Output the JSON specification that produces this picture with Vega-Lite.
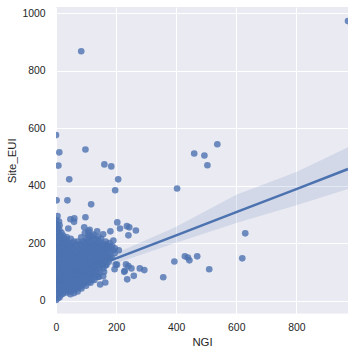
{"$schema":"https://vega.github.io/schema/vega-lite/v6.json","width":292,"height":306.5,"autosize":"none","padding":{"left":56,"top":7,"right":7,"bottom":41.5},"background":"white","config":{"view":{"stroke":null,"fill":"#EAEAF2"},"font":"Liberation Sans","axis":{"domain":false,"ticks":false,"grid":true,"gridColor":"#FFFFFF","gridWidth":1,"gridOpacity":1,"labelColor":"#262626","titleColor":"#262626","labelFontSize":10.4,"titleFontSize":11.4,"titleFontWeight":"normal","labelFont":"Liberation Sans","titleFont":"Liberation Sans","labelFlush":false}},"datasets":{"pts":[
{"NGI":84,"Site_EUI":868},{"NGI":972,"Site_EUI":973},{"NGI":0,"Site_EUI":576},{"NGI":11,"Site_EUI":516},{"NGI":8,"Site_EUI":470},{"NGI":98,"Site_EUI":526},{"NGI":161,"Site_EUI":474},{"NGI":184,"Site_EUI":467},{"NGI":44,"Site_EUI":422},{"NGI":207,"Site_EUI":422},{"NGI":197,"Site_EUI":384},{"NGI":403,"Site_EUI":390},{"NGI":2,"Site_EUI":349},{"NGI":38,"Site_EUI":349},{"NGI":117,"Site_EUI":335},{"NGI":5,"Site_EUI":294},{"NGI":10,"Site_EUI":275},{"NGI":61,"Site_EUI":286},{"NGI":48,"Site_EUI":283},{"NGI":60,"Site_EUI":274},{"NGI":98,"Site_EUI":290},{"NGI":41,"Site_EUI":251},{"NGI":94,"Site_EUI":255},{"NGI":204,"Site_EUI":272},{"NGI":213,"Site_EUI":251},{"NGI":236,"Site_EUI":259},{"NGI":244,"Site_EUI":255},{"NGI":266,"Site_EUI":244},{"NGI":241,"Site_EUI":227},{"NGI":181,"Site_EUI":241},{"NGI":137,"Site_EUI":241},{"NGI":157,"Site_EUI":231},{"NGI":191,"Site_EUI":209},{"NGI":196,"Site_EUI":182},{"NGI":209,"Site_EUI":175},{"NGI":199,"Site_EUI":125},{"NGI":203,"Site_EUI":125},{"NGI":195,"Site_EUI":109},{"NGI":233,"Site_EUI":126},{"NGI":241,"Site_EUI":120},{"NGI":251,"Site_EUI":112},{"NGI":229,"Site_EUI":104},{"NGI":227,"Site_EUI":100},{"NGI":279,"Site_EUI":112},{"NGI":294,"Site_EUI":106},{"NGI":259,"Site_EUI":86},{"NGI":237,"Site_EUI":74},{"NGI":357,"Site_EUI":81},{"NGI":394,"Site_EUI":136},{"NGI":147,"Site_EUI":56},{"NGI":164,"Site_EUI":63},{"NGI":157,"Site_EUI":112},{"NGI":160,"Site_EUI":100},{"NGI":157,"Site_EUI":85},{"NGI":143,"Site_EUI":83},{"NGI":537,"Site_EUI":544},{"NGI":460,"Site_EUI":512},{"NGI":494,"Site_EUI":505},{"NGI":504,"Site_EUI":471},{"NGI":630,"Site_EUI":234},{"NGI":620,"Site_EUI":147},{"NGI":510,"Site_EUI":109},{"NGI":470,"Site_EUI":154},{"NGI":429,"Site_EUI":154},{"NGI":439,"Site_EUI":150},{"NGI":444,"Site_EUI":140},
{"NGI":150,"Site_EUI":215},{"NGI":165,"Site_EUI":205},{"NGI":178,"Site_EUI":200},{"NGI":187,"Site_EUI":190},{"NGI":190,"Site_EUI":175},{"NGI":195,"Site_EUI":165},{"NGI":185,"Site_EUI":150},{"NGI":175,"Site_EUI":135},{"NGI":165,"Site_EUI":122},{"NGI":125,"Site_EUI":230},{"NGI":112,"Site_EUI":246},{"NGI":140,"Site_EUI":222},{"NGI":115,"Site_EUI":62},{"NGI":128,"Site_EUI":72},{"NGI":140,"Site_EUI":82},{"NGI":100,"Site_EUI":52},{"NGI":85,"Site_EUI":42},{"NGI":72,"Site_EUI":32},{"NGI":60,"Site_EUI":26},{"NGI":48,"Site_EUI":22},
{"NGI":0,"Site_EUI":2},{"NGI":0,"Site_EUI":20},{"NGI":1,"Site_EUI":38},{"NGI":0,"Site_EUI":55},{"NGI":0,"Site_EUI":73},{"NGI":1,"Site_EUI":91},{"NGI":0,"Site_EUI":108},{"NGI":0,"Site_EUI":126},{"NGI":2,"Site_EUI":144},{"NGI":0,"Site_EUI":161},{"NGI":0,"Site_EUI":179},{"NGI":1,"Site_EUI":197},{"NGI":0,"Site_EUI":214},{"NGI":0,"Site_EUI":232},{"NGI":2,"Site_EUI":250},{"NGI":0,"Site_EUI":266},{"NGI":1,"Site_EUI":280},
{"NGI":12,"Site_EUI":12},{"NGI":11,"Site_EUI":30},{"NGI":13,"Site_EUI":48},{"NGI":12,"Site_EUI":66},{"NGI":10,"Site_EUI":84},{"NGI":13,"Site_EUI":102},{"NGI":12,"Site_EUI":120},{"NGI":11,"Site_EUI":138},{"NGI":13,"Site_EUI":156},{"NGI":12,"Site_EUI":174},{"NGI":10,"Site_EUI":192},{"NGI":13,"Site_EUI":210},{"NGI":12,"Site_EUI":228},{"NGI":11,"Site_EUI":246},{"NGI":12,"Site_EUI":262},
{"NGI":24,"Site_EUI":25},{"NGI":25,"Site_EUI":43},{"NGI":23,"Site_EUI":61},{"NGI":24,"Site_EUI":79},{"NGI":26,"Site_EUI":97},{"NGI":23,"Site_EUI":115},{"NGI":24,"Site_EUI":133},{"NGI":25,"Site_EUI":151},{"NGI":23,"Site_EUI":169},{"NGI":24,"Site_EUI":187},{"NGI":26,"Site_EUI":205},{"NGI":24,"Site_EUI":226},
{"NGI":36,"Site_EUI":28},{"NGI":37,"Site_EUI":46},{"NGI":35,"Site_EUI":64},{"NGI":36,"Site_EUI":82},{"NGI":38,"Site_EUI":100},{"NGI":35,"Site_EUI":118},{"NGI":36,"Site_EUI":136},{"NGI":37,"Site_EUI":154},{"NGI":35,"Site_EUI":172},{"NGI":36,"Site_EUI":190},{"NGI":37,"Site_EUI":208},{"NGI":36,"Site_EUI":220},
{"NGI":48,"Site_EUI":32},{"NGI":49,"Site_EUI":50},{"NGI":47,"Site_EUI":68},{"NGI":48,"Site_EUI":86},{"NGI":50,"Site_EUI":104},{"NGI":47,"Site_EUI":122},{"NGI":48,"Site_EUI":140},{"NGI":49,"Site_EUI":158},{"NGI":47,"Site_EUI":176},{"NGI":48,"Site_EUI":194},{"NGI":49,"Site_EUI":215},
{"NGI":60,"Site_EUI":36},{"NGI":61,"Site_EUI":54},{"NGI":59,"Site_EUI":72},{"NGI":60,"Site_EUI":90},{"NGI":62,"Site_EUI":108},{"NGI":59,"Site_EUI":126},{"NGI":60,"Site_EUI":144},{"NGI":61,"Site_EUI":162},{"NGI":59,"Site_EUI":180},{"NGI":60,"Site_EUI":205},
{"NGI":72,"Site_EUI":42},{"NGI":73,"Site_EUI":60},{"NGI":71,"Site_EUI":78},{"NGI":72,"Site_EUI":96},{"NGI":74,"Site_EUI":114},{"NGI":71,"Site_EUI":132},{"NGI":72,"Site_EUI":150},{"NGI":73,"Site_EUI":168},{"NGI":71,"Site_EUI":186},{"NGI":72,"Site_EUI":205},
{"NGI":84,"Site_EUI":50},{"NGI":85,"Site_EUI":68},{"NGI":83,"Site_EUI":86},{"NGI":84,"Site_EUI":104},{"NGI":86,"Site_EUI":122},{"NGI":83,"Site_EUI":140},{"NGI":84,"Site_EUI":158},{"NGI":85,"Site_EUI":176},{"NGI":83,"Site_EUI":194},{"NGI":84,"Site_EUI":220},
{"NGI":96,"Site_EUI":60},{"NGI":97,"Site_EUI":78},{"NGI":95,"Site_EUI":96},{"NGI":96,"Site_EUI":114},{"NGI":98,"Site_EUI":132},{"NGI":95,"Site_EUI":150},{"NGI":96,"Site_EUI":168},{"NGI":97,"Site_EUI":186},{"NGI":95,"Site_EUI":204},{"NGI":96,"Site_EUI":235},
{"NGI":108,"Site_EUI":65},{"NGI":109,"Site_EUI":83},{"NGI":107,"Site_EUI":101},{"NGI":108,"Site_EUI":119},{"NGI":110,"Site_EUI":137},{"NGI":107,"Site_EUI":155},{"NGI":108,"Site_EUI":173},{"NGI":109,"Site_EUI":191},{"NGI":107,"Site_EUI":209},{"NGI":108,"Site_EUI":225},{"NGI":108,"Site_EUI":240},
{"NGI":120,"Site_EUI":72},{"NGI":121,"Site_EUI":90},{"NGI":119,"Site_EUI":108},{"NGI":120,"Site_EUI":126},{"NGI":122,"Site_EUI":144},{"NGI":119,"Site_EUI":162},{"NGI":120,"Site_EUI":180},{"NGI":121,"Site_EUI":198},{"NGI":120,"Site_EUI":225},
{"NGI":132,"Site_EUI":85},{"NGI":133,"Site_EUI":103},{"NGI":131,"Site_EUI":121},{"NGI":132,"Site_EUI":139},{"NGI":134,"Site_EUI":157},{"NGI":131,"Site_EUI":175},{"NGI":132,"Site_EUI":193},{"NGI":132,"Site_EUI":215},
{"NGI":144,"Site_EUI":95},{"NGI":145,"Site_EUI":113},{"NGI":143,"Site_EUI":131},{"NGI":144,"Site_EUI":149},{"NGI":146,"Site_EUI":167},{"NGI":143,"Site_EUI":185},{"NGI":144,"Site_EUI":205},
{"NGI":156,"Site_EUI":125},{"NGI":157,"Site_EUI":143},{"NGI":155,"Site_EUI":161},{"NGI":156,"Site_EUI":179},{"NGI":156,"Site_EUI":198},
{"NGI":168,"Site_EUI":125},{"NGI":169,"Site_EUI":143},{"NGI":167,"Site_EUI":161},{"NGI":168,"Site_EUI":179},{"NGI":168,"Site_EUI":195},
{"NGI":180,"Site_EUI":150},{"NGI":181,"Site_EUI":170},{"NGI":180,"Site_EUI":188},
{"NGI":6,"Site_EUI":8},{"NGI":6,"Site_EUI":29},{"NGI":6,"Site_EUI":47},{"NGI":6,"Site_EUI":64},{"NGI":6,"Site_EUI":82},{"NGI":6,"Site_EUI":100},{"NGI":6,"Site_EUI":117},{"NGI":6,"Site_EUI":135},{"NGI":6,"Site_EUI":153},{"NGI":6,"Site_EUI":170},{"NGI":6,"Site_EUI":188},{"NGI":6,"Site_EUI":206},{"NGI":6,"Site_EUI":223},{"NGI":6,"Site_EUI":241},{"NGI":6,"Site_EUI":258},
{"NGI":18,"Site_EUI":21},{"NGI":18,"Site_EUI":39},{"NGI":18,"Site_EUI":57},{"NGI":18,"Site_EUI":75},{"NGI":18,"Site_EUI":93},{"NGI":18,"Site_EUI":111},{"NGI":18,"Site_EUI":129},{"NGI":18,"Site_EUI":147},{"NGI":18,"Site_EUI":165},{"NGI":18,"Site_EUI":183},{"NGI":18,"Site_EUI":201},{"NGI":18,"Site_EUI":219},{"NGI":18,"Site_EUI":237},
{"NGI":30,"Site_EUI":34},{"NGI":30,"Site_EUI":52},{"NGI":30,"Site_EUI":70},{"NGI":30,"Site_EUI":88},{"NGI":30,"Site_EUI":106},{"NGI":30,"Site_EUI":124},{"NGI":30,"Site_EUI":142},{"NGI":30,"Site_EUI":160},{"NGI":30,"Site_EUI":178},{"NGI":30,"Site_EUI":196},{"NGI":30,"Site_EUI":214},
{"NGI":42,"Site_EUI":37},{"NGI":42,"Site_EUI":55},{"NGI":42,"Site_EUI":73},{"NGI":42,"Site_EUI":91},{"NGI":42,"Site_EUI":109},{"NGI":42,"Site_EUI":127},{"NGI":42,"Site_EUI":145},{"NGI":42,"Site_EUI":163},{"NGI":42,"Site_EUI":181},{"NGI":42,"Site_EUI":199},
{"NGI":54,"Site_EUI":41},{"NGI":54,"Site_EUI":59},{"NGI":54,"Site_EUI":77},{"NGI":54,"Site_EUI":95},{"NGI":54,"Site_EUI":113},{"NGI":54,"Site_EUI":131},{"NGI":54,"Site_EUI":149},{"NGI":54,"Site_EUI":167},{"NGI":54,"Site_EUI":185},{"NGI":54,"Site_EUI":200},
{"NGI":66,"Site_EUI":45},{"NGI":66,"Site_EUI":63},{"NGI":66,"Site_EUI":81},{"NGI":66,"Site_EUI":99},{"NGI":66,"Site_EUI":117},{"NGI":66,"Site_EUI":135},{"NGI":66,"Site_EUI":153},{"NGI":66,"Site_EUI":171},{"NGI":66,"Site_EUI":192},
{"NGI":78,"Site_EUI":52},{"NGI":78,"Site_EUI":70},{"NGI":78,"Site_EUI":88},{"NGI":78,"Site_EUI":106},{"NGI":78,"Site_EUI":124},{"NGI":78,"Site_EUI":142},{"NGI":78,"Site_EUI":160},{"NGI":78,"Site_EUI":178},{"NGI":78,"Site_EUI":198},
{"NGI":90,"Site_EUI":58},{"NGI":90,"Site_EUI":76},{"NGI":90,"Site_EUI":94},{"NGI":90,"Site_EUI":112},{"NGI":90,"Site_EUI":130},{"NGI":90,"Site_EUI":148},{"NGI":90,"Site_EUI":166},{"NGI":90,"Site_EUI":184},{"NGI":90,"Site_EUI":205},
{"NGI":102,"Site_EUI":69},{"NGI":102,"Site_EUI":87},{"NGI":102,"Site_EUI":105},{"NGI":102,"Site_EUI":123},{"NGI":102,"Site_EUI":141},{"NGI":102,"Site_EUI":159},{"NGI":102,"Site_EUI":177},{"NGI":102,"Site_EUI":195},{"NGI":102,"Site_EUI":216},
{"NGI":114,"Site_EUI":76},{"NGI":114,"Site_EUI":94},{"NGI":114,"Site_EUI":112},{"NGI":114,"Site_EUI":130},{"NGI":114,"Site_EUI":148},{"NGI":114,"Site_EUI":166},{"NGI":114,"Site_EUI":184},{"NGI":114,"Site_EUI":202},{"NGI":114,"Site_EUI":220},
{"NGI":126,"Site_EUI":86},{"NGI":126,"Site_EUI":104},{"NGI":126,"Site_EUI":122},{"NGI":126,"Site_EUI":140},{"NGI":126,"Site_EUI":158},{"NGI":126,"Site_EUI":176},{"NGI":126,"Site_EUI":194},{"NGI":126,"Site_EUI":212},
{"NGI":138,"Site_EUI":96},{"NGI":138,"Site_EUI":114},{"NGI":138,"Site_EUI":132},{"NGI":138,"Site_EUI":150},{"NGI":138,"Site_EUI":168},{"NGI":138,"Site_EUI":186},{"NGI":138,"Site_EUI":204},
{"NGI":150,"Site_EUI":122},{"NGI":150,"Site_EUI":140},{"NGI":150,"Site_EUI":158},{"NGI":150,"Site_EUI":176},{"NGI":150,"Site_EUI":194},
{"NGI":162,"Site_EUI":134},{"NGI":162,"Site_EUI":152},{"NGI":162,"Site_EUI":170},{"NGI":162,"Site_EUI":188},
{"NGI":174,"Site_EUI":152},{"NGI":174,"Site_EUI":170},{"NGI":174,"Site_EUI":186}
],"fit":[
{"NGI":0,"fit":66,"lo":55,"hi":78},{"NGI":100,"fit":106,"lo":97,"hi":117},{"NGI":200,"fit":147,"lo":130,"hi":165},{"NGI":400,"fit":227,"lo":201,"hi":257},{"NGI":600,"fit":308,"lo":270,"hi":368},{"NGI":800,"fit":388,"lo":332,"hi":448},{"NGI":972,"fit":458,"lo":388,"hi":534}
]},"layer":[
{"data":{"name":"pts"},"mark":{"type":"point","filled":true,"shape":"circle","size":44,"opacity":0.8,"color":"#4C72B0","clip":true},"encoding":{"x":{"field":"NGI","type":"quantitative","scale":{"domain":[0,972],"nice":false,"zero":false},"axis":{"values":[0,200,400,600,800],"labelPadding":9,"title":"NGI","titlePadding":4}},"y":{"field":"Site_EUI","type":"quantitative","scale":{"domain":[-45,1022],"nice":false,"zero":false},"axis":{"values":[0,200,400,600,800,1000],"format":"d","labelPadding":11,"title":"Site_EUI","titlePadding":4}}}},
{"data":{"name":"fit"},"mark":{"type":"area","color":"#4C72B0","opacity":0.15,"clip":true},"encoding":{"x":{"field":"NGI","type":"quantitative"},"y":{"field":"lo","type":"quantitative"},"y2":{"field":"hi"}}},
{"data":{"name":"fit"},"mark":{"type":"line","color":"#4C72B0","strokeWidth":2.6,"clip":true},"encoding":{"x":{"field":"NGI","type":"quantitative"},"y":{"field":"fit","type":"quantitative"}}}
]}
